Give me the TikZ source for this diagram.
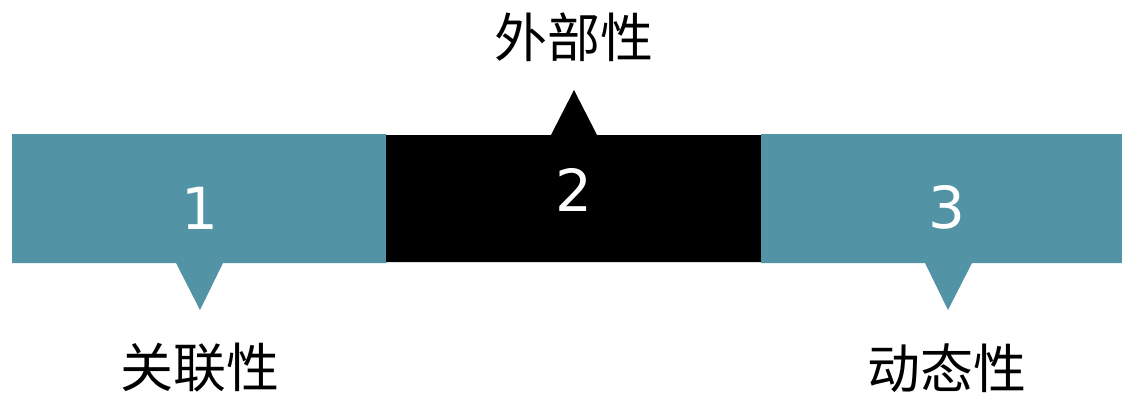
\documentclass[tikz,border=0pt]{standalone}
\usepackage{fontspec}
\newfontfamily\cjk{Noto Sans CJK SC}
\newfontfamily\numfont{DejaVu Sans}
\definecolor{teal}{RGB}{82,148,165}
\begin{document}
\begin{tikzpicture}[x=1pt,y=-1pt,
  num/.style={text=white,font=\numfont\fontsize{58}{58}\selectfont,inner sep=0pt,anchor=center},
  lab/.style={text=black,font=\cjk\fontsize{53}{53}\selectfont,inner sep=0pt,anchor=center}]
\useasboundingbox (0,0) rectangle (1122,397);
% box 1
\fill[teal] (12,134) -- (386,134) -- (386,263) -- (223,263) -- (200,310) -- (176,263) -- (12,263) -- cycle;
% box 2
\fill[black] (386,135) -- (551,135) -- (574,90) -- (597,135) -- (761,135) -- (761,262) -- (386,262) -- cycle;
% box 3
\fill[teal] (761,134) -- (1122,134) -- (1122,263) -- (972,263) -- (948,310) -- (925,263) -- (761,263) -- cycle;
\node[num] (n1) at (200,208) {1};
\node[num] (n2) at (574,190) {2};
\node[num] (n3) at (947,207) {3};
\node[lab] (l2) at (574,37) {外部性};
\node[lab] (l1) at (200,368) {关联性};
\node[lab] (l3) at (947,368) {动态性};
\end{tikzpicture}
\end{document}
